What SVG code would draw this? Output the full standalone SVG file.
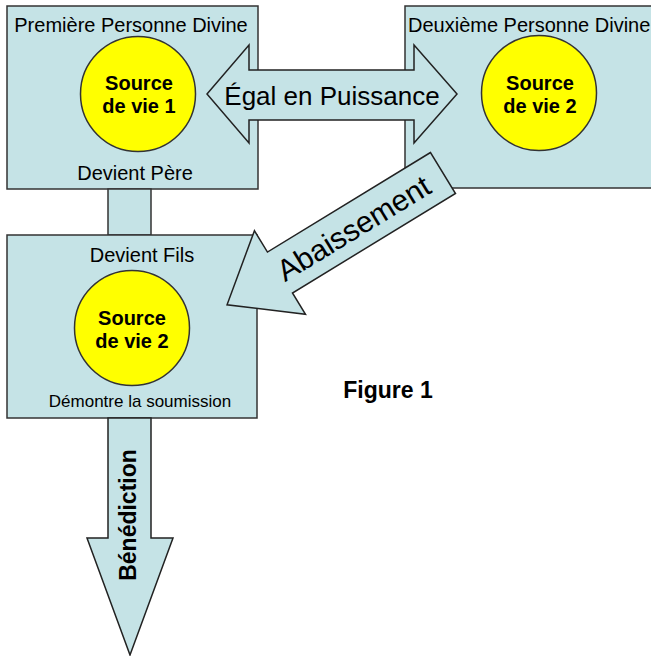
<svg xmlns="http://www.w3.org/2000/svg" width="651" height="656" viewBox="0 0 651 656">
<style>
.box{fill:#c5e3e6;stroke:#333;stroke-width:1.5}
.sun{fill:#ffff00;stroke:#333;stroke-width:1.5}
.arr{fill:#c5e3e6;stroke:#222;stroke-width:1.5;stroke-linejoin:miter}
.t{font-family:"Liberation Sans",Arial,sans-serif;fill:#000}
.b{font-weight:bold}
</style>
<rect width="651" height="656" fill="#fff"/>
<g id="box1">
<rect class="box" x="7" y="6" width="251" height="183"/>
<text class="t" x="131" y="32" font-size="20" text-anchor="middle">Première Personne Divine</text>
<circle class="sun" cx="138" cy="94" r="57.5"/>
<text class="t b" x="139" y="90" font-size="20" text-anchor="middle">Source</text>
<text class="t b" x="139" y="113" font-size="20" text-anchor="middle">de vie 1</text>
<text class="t" x="135" y="180" font-size="20" text-anchor="middle">Devient Père</text>
</g>
<g id="box2">
<rect class="box" x="405" y="6" width="260" height="182"/>
<text class="t" x="408" y="32" font-size="20">Deuxième Personne Divine</text>
<circle class="sun" cx="539" cy="93" r="57.5"/>
<text class="t b" x="540" y="90" font-size="20" text-anchor="middle">Source</text>
<text class="t b" x="540" y="113" font-size="20" text-anchor="middle">de vie 2</text>
</g>
<g id="connectors">
<rect class="box" x="108" y="189" width="43" height="46"/>
</g>
<g id="box3">
<rect class="box" x="7" y="235" width="250" height="183"/>
<text class="t" x="142" y="262" font-size="20" text-anchor="middle">Devient Fils</text>
<circle class="sun" cx="132" cy="328" r="57.5"/>
<text class="t b" x="132" y="325" font-size="20" text-anchor="middle">Source</text>
<text class="t b" x="132" y="348" font-size="20" text-anchor="middle">de vie 2</text>
<text class="t" x="140" y="407" font-size="17" text-anchor="middle">Démontre la soumission</text>
</g>
<g id="arrows">
<g id="egal">
<polygon class="arr" points="207,94 249,45 249,70 414,70 414,45 457,94 414,143 414,120 249,120 249,143"/>
<text class="t" x="332" y="105" font-size="26" text-anchor="middle">Égal en Puissance</text>
</g>
<g id="abaissement" transform="translate(443,173) rotate(-31.4)">
<polygon class="arr" points="0,-24 -191,-24 -191,-49 -253,0 -191,49 -191,24 0,24"/>
<text class="t" x="-105" y="11" font-size="30" text-anchor="middle">Abaissement</text>
</g>
<g id="benediction">
<polygon class="arr" points="108,418 151,418 151,538 173,538 130,655 87,538 108,538"/>
<text class="t b" transform="translate(136,515) rotate(-90)" font-size="23" text-anchor="middle">Bénédiction</text>
</g>
</g>
<g id="caption">
<text class="t b" x="388" y="398" font-size="23" text-anchor="middle">Figure 1</text>
</g>
</svg>
